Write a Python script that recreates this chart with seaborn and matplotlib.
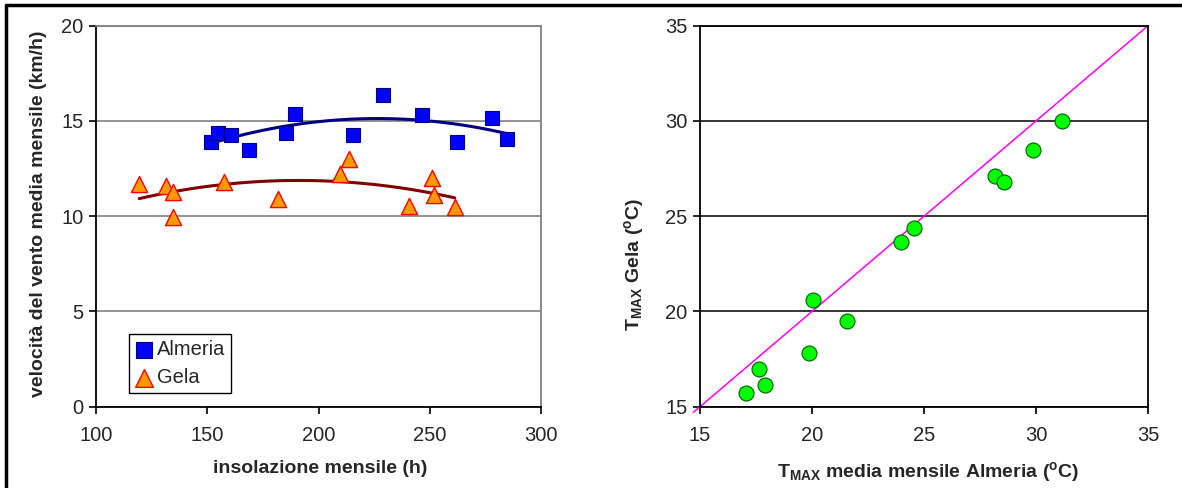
import numpy as np
import pandas as pd
import seaborn as sns
import matplotlib.pyplot as plt
from matplotlib.lines import Line2D

# Left panel: wind speed vs monthly insolation
alm_ins = [151.5, 154.9, 160.5, 168.6, 185.5, 189.5, 215.5, 229.2, 246.7, 262.4, 278.1, 284.6]
alm_vel = [13.87, 14.37, 14.28, 13.47, 14.35, 15.34, 14.28, 16.34, 15.29, 13.87, 15.13, 14.07]
gela_ins = [119.4, 131.3, 134.7, 134.7, 157.5, 181.9, 209.6, 213.5, 240.7, 251.0, 252.1, 261.2]
gela_vel = [11.69, 11.61, 11.27, 9.97, 11.82, 10.90, 12.21, 13.02, 10.51, 12.03, 11.09, 10.49]

# Right panel: Tmax Gela vs Tmax Almeria
tmax_alm = [17.05, 17.65, 17.89, 19.85, 20.06, 21.58, 23.99, 24.57, 28.18, 28.59, 29.88, 31.16]
tmax_gela = [15.73, 17.00, 16.14, 17.80, 20.60, 19.49, 23.67, 24.39, 27.10, 26.78, 28.49, 29.98]
diag = [14.7, 35.0]

sns.set_style('white')
plt.rcParams['font.family'] = ['Liberation Sans', 'DejaVu Sans']
plt.rcParams['mathtext.fontset'] = 'custom'
plt.rcParams['mathtext.rm'] = 'Liberation Sans:bold'
plt.rcParams['mathtext.default'] = 'rm'

W, H = 1182, 488
fig = plt.figure(figsize=(W / 100, H / 100), dpi=100)
ax1 = fig.add_axes([96 / W, (H - 406.7) / H, 445 / W, 381 / H])
ax2 = fig.add_axes([700 / W, (H - 406.7) / H, 448 / W, 381 / H])

df_a = pd.DataFrame({'x': alm_ins, 'y': alm_vel})
df_g = pd.DataFrame({'x': gela_ins, 'y': gela_vel})

sns.regplot(data=df_a, x='x', y='y', order=2, ci=None, scatter=False, truncate=True,
            ax=ax1, line_kws={'color': '#000080', 'lw': 2.2, 'zorder': 2})
sns.regplot(data=df_g, x='x', y='y', order=2, ci=None, scatter=False, truncate=True,
            ax=ax1, line_kws={'color': '#800000', 'lw': 2.2, 'zorder': 2})
sns.scatterplot(data=df_a, x='x', y='y', ax=ax1, marker='s', s=115, color='#0000FF',
                edgecolor='#000080', linewidth=0.8, label='Almeria', zorder=3)
sns.scatterplot(data=df_g, x='x', y='y', ax=ax1, marker='^', s=135, color='#FF9900',
                edgecolor='#FF0000', linewidth=1.0, label='Gela', zorder=3)

ax1.set_xlim(100, 300)
ax1.set_ylim(0, 20)
ax1.set_xticks(range(100, 301, 50))
ax1.set_yticks(range(0, 21, 5))
ax1.yaxis.grid(True, color='#808080', lw=1.2)
ax1.set_axisbelow(True)
for s in ['left', 'bottom']:
    ax1.spines[s].set_color('black')
    ax1.spines[s].set_linewidth(1.3)
for s in ['top', 'right']:
    ax1.spines[s].set_color('#808080')
    ax1.spines[s].set_linewidth(1.3)
ax1.set_xlabel('insolazione mensile (h)', fontsize=14, fontweight='bold')
ax1.set_ylabel('velocità del vento media mensile (km/h)', fontsize=14, fontweight='bold')
ax1.xaxis.set_label_coords(0.503, -0.14)
ax1.yaxis.set_label_coords(-0.11, 0.506)
leg = ax1.legend(loc='lower left', bbox_to_anchor=(0.075, 0.035), fontsize=14.5,
                 frameon=True, fancybox=False, edgecolor='black', framealpha=1,
                 handletextpad=0.15, handlelength=0.9, borderpad=0.3, labelspacing=0.45,
                 borderaxespad=0.0, markerscale=1.1)
leg.get_frame().set_linewidth(1.0)

sns.lineplot(x=diag, y=diag, ax=ax2, color='#FF00FF', lw=1.1, clip_on=False, zorder=2)
sns.scatterplot(x=tmax_alm, y=tmax_gela, ax=ax2, marker='o', s=115, color='#00FF00',
                edgecolor='#007000', linewidth=0.9, zorder=3)
ax2.set_xlim(15, 35)
ax2.set_ylim(15, 35)
ax2.set_xticks(range(15, 36, 5))
ax2.set_yticks(range(15, 36, 5))
ax2.yaxis.grid(True, color='black', lw=1.1)
ax2.set_axisbelow(True)
for s in ax2.spines.values():
    s.set_color('black')
    s.set_linewidth(1.3)
ax2.set_xlabel(r'T$_{MAX}$ media mensile Almeria ($^{o}$C)', fontsize=14, fontweight='bold')
ax2.set_ylabel(r'T$_{MAX}$ Gela ($^{o}$C)', fontsize=14, fontweight='bold')
ax2.xaxis.set_label_coords(0.51, -0.14)
ax2.yaxis.set_label_coords(-0.12, 0.373)

for ax in (ax1, ax2):
    ax.tick_params(axis='both', which='major', direction='out', length=5, width=1.2,
                   color='black', labelsize=14.5, bottom=True, left=True)
    ax.tick_params(axis='x', pad=9)
    ax.tick_params(axis='y', pad=4)

# outer frame (top and left edge)
fig.add_artist(Line2D([6 / W, 6 / W], [0, 1 - 5 / H], color='black', lw=2.5))
fig.add_artist(Line2D([6 / W, 1], [1 - 5 / H, 1 - 5 / H], color='black', lw=2.5))

fig.savefig('out.png', dpi=100)
